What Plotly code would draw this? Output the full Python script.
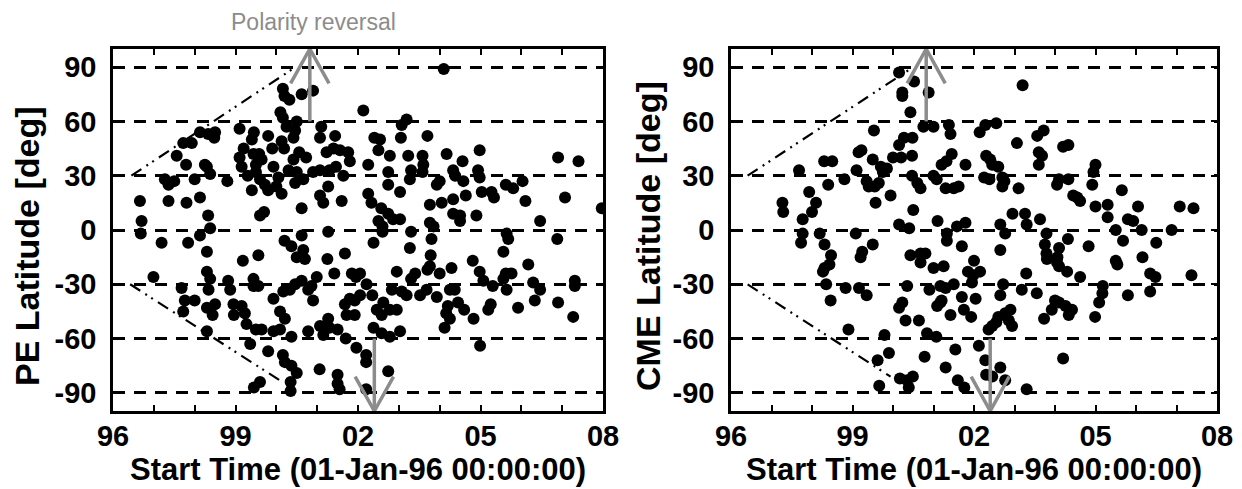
import plotly.graph_objects as go

# ---------------- data ----------------
x_tick_years = list(range(1996, 2009))
x_tick_labels = ["96", "", "", "99", "", "", "02", "", "", "05", "", "", "08"]
lat_ticks = [-90, -60, -30, 0, 30, 60, 90]
lat_tick_labels = ["-90", "-60", "-30", "0", "30", "60", "90"]

# Left panel: PE start times [year] and latitudes [deg]
pe_time = [
    2000.16, 2000.20, 2000.32, 2000.62, 2000.90, 2000.10, 2000.16, 2000.50, 2000.25, 2000.46,
    2000.42, 2000.13, 2000.19, 1999.10, 1999.45, 1999.40, 1999.80, 1998.13, 1998.33, 1998.50,
    1998.48, 1997.72, 1997.93, 1997.56, 1997.79, 1998.25, 1998.38, 1998.30, 1997.27, 1997.36,
    1997.50, 1998.00, 1998.80, 1996.66, 1996.70, 1997.36, 1997.80, 1998.13, 1998.33, 1999.10,
    1999.20, 1999.15, 1999.44, 1999.58, 1999.64, 1999.50, 1999.40, 1999.60, 1999.72, 1999.93,
    2000.00, 2000.13, 2000.62, 1999.60, 1999.70, 2000.42, 2000.56, 2000.73, 2000.50, 2000.66,
    2000.46, 2000.90, 2001.07, 2001.23, 2001.40, 2001.07, 2001.44, 2001.10, 2001.56, 2001.76,
    2001.80, 2001.30, 2001.46, 2001.64, 2001.27, 2001.07, 2001.15, 2001.60, 1999.30, 1999.50,
    1999.90, 2000.30, 2000.05, 1999.80,
    2004.10, 2002.13, 2003.19, 2003.07, 2002.40, 2002.54, 2002.50, 2002.78, 2003.05, 2003.23,
    2003.70, 2003.58, 2003.60, 2003.58, 2003.30, 2003.27, 2002.74, 2002.74, 2003.03, 2002.25,
    2002.25, 2002.33, 2002.57, 2002.74, 2002.50, 2002.60, 2002.86, 2003.03, 2003.76, 2004.05,
    2004.17, 2004.56, 2004.33, 2004.38, 2004.58, 2003.93, 2004.00, 2004.33, 2004.64, 2004.33,
    2004.50, 2004.50, 2004.90, 2004.98, 2004.94, 2004.98, 2005.03, 2005.27, 2005.33, 2005.62,
    2005.80, 2006.03, 2006.10, 2006.46, 2006.90, 2007.40, 2007.07, 2007.97, 2003.76, 2003.85,
    1996.68, 1997.19, 1997.84, 1998.13, 1998.38, 1998.30, 1999.18, 1999.56, 2000.20, 2000.37,
    2000.62, 2000.66, 2000.50, 2001.27, 2001.25, 2001.68, 2001.42, 1996.99, 1997.68, 1997.76,
    1998.00, 1997.72, 1998.30, 1998.38, 1998.34, 1998.30, 1998.50, 1998.44, 1998.30, 1998.82,
    1998.87, 1998.95, 1998.96, 1999.23, 1999.27, 1999.44, 1999.44, 1999.56, 1999.36, 1999.64,
    1999.80, 1999.93, 2000.09, 1999.93, 2000.09, 2000.21, 2000.17, 2000.33, 2000.46, 2000.62,
    2000.78, 2000.86, 2000.99, 2000.90, 2000.16, 2000.21, 2000.37, 2000.50, 2000.37, 2000.78,
    2001.07, 2001.15, 2001.27, 2001.30, 2001.50, 2001.70, 2001.96, 2001.06, 2001.50, 2001.55,
    2000.35, 2000.35, 1999.45, 1999.60, 2000.70, 1999.15, 1999.50, 2001.50,
    2002.60, 2002.38, 2003.30, 2003.27, 2003.80, 2003.78, 2003.76, 2003.70, 2003.40, 2003.30,
    2002.95, 2001.85, 2001.95, 2002.05, 2002.21, 2001.80, 2001.92, 2002.05, 2001.68, 2001.72,
    2001.92, 2002.38, 2002.58, 2002.78, 2003.03, 2002.46, 2002.62, 2002.78, 2002.95, 2002.58,
    2002.35, 2002.83, 2003.07, 2003.19, 2003.52, 2003.68, 2003.93, 2004.00, 2004.29, 2004.25,
    2004.37, 2004.45, 2004.20, 2004.16, 2004.12, 2004.25, 2004.60, 2004.81, 2004.98, 2005.07,
    2005.30, 2005.56, 2005.62, 2005.76, 2005.56, 2005.64, 2005.68, 2005.64, 2006.17, 2006.29,
    2006.46, 2006.33, 2005.92, 2005.19, 2005.25, 2004.83, 2004.99, 2006.88, 2006.90, 2007.31,
    2007.31, 2007.27, 2002.20, 2002.20, 2002.74, 2002.20,
]
pe_lat = [
    78, 74, 72, 75, 77, 65, 62, 60, 57, 55,
    51, 49, 45, 56, 54, 50, 52, 54, 53, 54,
    51, 48, 48, 41, 36, 36, 31, 35, 28, 25,
    27, 28, 27, 16, 5, 16, 15, 18, 8, 40,
    45, 35, 42, 42, 39, 32, 22, 28, 25, 35,
    24, 20, 12, 8, 10, 39, 43, 40, 32, 28,
    26, 32, 33, 43, 45, 51, 52, 57, 44, 43,
    38, 33, 35, 30, 24, 19, 15, 16, 30, 36,
    45, 33, 29, 22,
    89, 66, 61, 58, 51, 50, 44, 41, 51, 41,
    52, 41, 36, 32, 33, 28, 32, 25, 21, 36,
    20, 15, 12, 9, 5, 2, 6, 6, 14, 15,
    42, 38, 33, 30, 27, 25, 27, 17, 19, 9,
    8, 5, 8, 44, 33, 29, 21, 21, 18, 25,
    23, 27, 16, 5, 40, 38, 18, 12, 4, 2,
    -2, -7, -7, -3, 1, -12, -17, -14, -6, -9,
    -3, -11, -15, -1, -16, -13, -24, -26, -32, -39,
    -39, -45, -23, -27, -33, -43, -41, -47, -56, -28,
    -33, -41, -47, -46, -52, -27, -31, -31, -63, -55,
    -67, -56, -55, -38, -45, -49, -34, -33, -30, -28,
    -33, -31, -26, -39, -69, -73, -75, -79, -59, -56,
    -53, -58, -49, -54, -55, -60, -65, -77, -80, -88,
    -84, -89, -87, -84, -16, -42, -55, -85,
    -1, -7, -1, -10, -5, -14, -20, -22, -24, -27,
    -23, -24, -26, -24, -30, -38, -39, -36, -41, -47,
    -47, -54, -57, -59, -56, -44, -40, -44, -44, -47,
    -36, -33, -34, -36, -36, -33, -37, -24, -21, -33,
    -33, -40, -42, -46, -54, -49, -44, -17, -23, -28,
    -31, -27, -24, -24, -12, -2, -5, -33, -19, -29,
    -33, -39, -43, -44, -41, -49, -64, -5, -40, -28,
    -31, -48, -69, -73, -78, -88,
]

# Right panel: CME start times [year] and latitudes [deg]
cme_time = [
    2000.15, 2000.52, 2000.23, 2000.23, 2000.88, 2000.43, 2000.75, 2001.00, 1999.53, 2000.15,
    2000.27, 2000.48, 2000.00, 2000.20, 2000.47, 1999.15, 1999.22, 1999.10, 1999.50, 1999.70,
    1999.75, 1999.85, 1999.35, 1999.40, 1999.55, 1999.65, 1999.57, 1999.94, 2000.47, 2000.60,
    2000.68, 2000.50, 2000.15, 2000.40, 2001.10, 2001.00, 2001.08, 2001.20, 2001.32, 2001.45,
    2001.42, 2001.38, 2001.30, 2001.50, 1997.68, 1998.30, 1998.50, 1998.40, 1998.80, 1997.27,
    1997.29, 1997.93, 1998.10, 1998.00, 1997.77, 2001.62,
    2003.20, 2002.14, 2002.28, 2002.55, 2003.06, 2003.56, 2003.72, 2003.60, 2003.68, 2003.60,
    2004.20, 2004.33, 2001.79, 2002.30, 2002.40, 2002.45, 2002.60, 2002.70, 2002.75, 2002.70,
    2002.25, 2002.38, 2003.10, 2004.10, 2004.05, 2004.33, 2005.00, 2004.95, 2004.92, 2004.45,
    2004.55, 2004.62, 2005.00, 2005.30, 2005.30, 2005.65, 2005.80, 2005.93, 2006.05, 2007.08,
    2007.42, 2002.95, 2003.26, 2003.63,
    1997.77, 1997.73, 1998.19, 1998.31, 1998.47, 1998.43, 1998.31, 1998.27, 1998.35, 1998.46,
    1998.83, 1999.16, 1999.35, 1999.08, 1999.20, 1999.24, 1999.50, 1998.90, 2000.43, 2000.68,
    2000.80, 2000.68, 2001.00, 2001.25, 2000.35, 2000.90, 2001.17, 2000.15, 2000.23, 2000.31,
    2000.64, 2001.17, 2001.09, 2001.42, 2000.84, 2001.07, 1999.79, 1999.90, 1999.62, 1999.66,
    2000.17, 2000.35, 2000.49, 2000.39, 2000.78, 2001.30, 2001.33, 2001.33,
    2001.70, 2001.58, 2001.79, 2002.65, 2002.77, 2003.30, 2003.79, 2004.32, 2005.50, 2006.14,
    2006.88, 2002.65, 2003.75, 2003.79, 2004.10, 2004.06, 2004.83, 2003.80, 2004.05, 2004.10,
    2004.30, 2002.00, 2001.85, 2001.98, 2002.15, 2001.95, 2003.29, 2004.62, 2005.50, 2005.54,
    2005.68, 2006.16, 2006.50, 2006.35, 2006.48, 2007.37, 2005.18, 2005.17, 2005.09, 2005.80,
    2006.35, 2004.99, 2004.00, 2004.10, 2004.26, 2004.42, 2004.34, 2003.92, 2003.73, 2003.55,
    2003.18, 2002.72, 2002.65, 2001.30, 2001.50, 2001.20, 2001.70, 2002.04, 2001.75, 2001.93,
    2002.45, 2002.60, 2002.77, 2002.90, 2002.86, 2002.94, 2002.36, 2002.55, 2001.54, 2002.12,
    2002.28, 2002.65, 2002.30, 2002.45, 2001.60, 2001.76, 2002.77, 2003.30, 2004.20,
]
cme_lat = [
    87, 82, 76, 74, 76, 65, 57, 57, 55, 47,
    51, 51, 40, 40, 41, 43, 44, 33, 39, 35,
    32, 34, 27, 24, 24, 26, 15, 19, 30, 26,
    23, 11, 3, 1, 5, 30, 28, 36, 38, 42,
    53, 58, 23, 23, 33, 38, 38, 25, 28, 15,
    10, 21, 15, 10, 6, 24,
    80, 54, 58, 59, 48, 52, 55, 43, 41, 36,
    46, 47, 36, 41, 39, 36, 35, 29, 27, 24,
    29, 28, 23, 28, 25, 28, 36, 32, 25, 19,
    18, 16, 13, 14, 7, 22, 6, 5, 13, 13,
    12, 9, 9, 6,
    -2, -7, -2, -8, -14, -19, -21, -23, -30, -39,
    -32, -32, -36, -2, -15, -12, -8, -55, -14, -13,
    -13, -18, -21, -20, -31, -33, -31, -43, -40, -50,
    -50, -40, -42, -47, -57, -59, -58, -68, -72, -86,
    -82, -83, -81, -87, -70, -76, -2, -6,
    -9, 2, 4, 3, -2, 3, -2, -5, 0, 0,
    0, -11, -8, -13, -10, -15, -9, -16, -18, -20,
    -23, -17, -23, -25, -23, -29, -24, -26, -17, -19,
    -6, -15, -7, -24, -26, -25, -31, -35, -40, -36,
    -34, -48, -39, -40, -42, -44, -47, -44, -49, -35,
    -33, -30, -36, -32, -30, -39, -37, -38, -44, -48,
    -53, -48, -46, -44, -50, -53, -55, -51, -66, -64,
    -72, -76, -80, -81, -83, -87, -83, -88, -71,
]

# Polarity-reversal times (north, south) and arrow extents [deg]
reversal_north = 2000.82
reversal_south = 2002.40
arrow_from, arrow_to, arrow_head_lat = 60, 100, 81
arrow_head_halfwidth = 0.47

# Dash-dot "envelope" guide lines: (start time, start lat, end time, end lat)
pe_envelope_n = [1996.45, 30, 2000.40, 89]
pe_envelope_s = [1996.42, -30, 2000.15, -84]
cme_envelope_n = [1996.41, 30, 2000.43, 89]
cme_envelope_s = [1996.41, -30, 1999.94, -81]

# ---------------- figure ----------------
FONT = "Liberation Sans, Arial, sans-serif"
GRAY = "#8c8c8c"
W, H = 1242, 489
ML, MR, MT, MB = 113, 25, 49, 78
plot_w = W - ML - MR
plot_h = H - MT - MB
dom_left = [0, 490 / plot_w]
dom_right = [618 / plot_w, 1.0]

fig = go.Figure()


def add_panel(times, lats, env_n, env_s, xa, ya):
    xref = "x" if xa == "" else "x" + xa
    yref = "y" if ya == "" else "y" + ya
    for env in (env_n, env_s):
        fig.add_trace(go.Scatter(
            x=[env[0], env[2]], y=[env[1], env[3]], mode="lines",
            line=dict(color="black", width=2.2, dash="12px,6px,2px,5px,2px,6px"),
            xaxis=xref, yaxis=yref, showlegend=False, hoverinfo="skip"))
    fig.add_trace(go.Scatter(
        x=times, y=lats, mode="markers",
        marker=dict(color="black", size=12, line=dict(width=0)),
        xaxis=xref, yaxis=yref, showlegend=False))
    for t, sgn in ((reversal_north, 1), (reversal_south, -1)):
        fig.add_trace(go.Scatter(
            x=[t, t, None, t - arrow_head_halfwidth, t, t + arrow_head_halfwidth],
            y=[sgn * arrow_from, sgn * arrow_to, None,
               sgn * arrow_head_lat, sgn * arrow_to, sgn * arrow_head_lat],
            mode="lines", line=dict(color=GRAY, width=3.5),
            xaxis=xref, yaxis=yref, showlegend=False, hoverinfo="skip"))


add_panel(pe_time, pe_lat, pe_envelope_n, pe_envelope_s, "", "")
add_panel(cme_time, cme_lat, cme_envelope_n, cme_envelope_s, "2", "2")

tick_font = dict(family=FONT, size=29, color="black", weight="bold")
xtitle_font = dict(family=FONT, size=31, color="black", weight="bold")
ytitle_font = dict(family=FONT, size=34, color="black", weight="bold")

xcommon = dict(
    range=[1996, 2008], tickmode="array", tickvals=x_tick_years, ticktext=x_tick_labels,
    ticks="inside", ticklen=6, tickwidth=2, tickcolor="black",
    showline=True, linecolor="black", linewidth=2.5, mirror="ticks",
    showgrid=False, zeroline=False, tickfont=tick_font, automargin=False,
    ticklabelstandoff=-3,
)
ycommon = dict(
    range=[-100, 100], tickmode="array", tickvals=lat_ticks, ticktext=lat_tick_labels,
    ticks="inside", ticklen=6, tickwidth=2, tickcolor="black",
    showline=True, linecolor="black", linewidth=2.5, mirror="ticks",
    showgrid=True, gridcolor="black", gridwidth=3, griddash="12px,9px",
    zeroline=False, tickfont=tick_font, automargin=False, ticklabelstandoff=8,
)


def px_x(px):
    return (px - ML) / plot_w


def px_y(py):
    return (H - MB - py) / plot_h


xtitle = "Start Time (01-Jan-96 00:00:00)"
annotations = [
    dict(text="Polarity reversal", x=reversal_north + 0.1, xref="x", y=px_y(22), yref="paper",
         xanchor="center", yanchor="middle", showarrow=False,
         font=dict(family=FONT, size=23, color=GRAY)),
    dict(text=xtitle, x=sum(dom_left) / 2, y=px_y(469), xref="paper", yref="paper",
         xanchor="center", yanchor="middle", showarrow=False, font=xtitle_font),
    dict(text=xtitle, x=sum(dom_right) / 2, y=px_y(469), xref="paper", yref="paper",
         xanchor="center", yanchor="middle", showarrow=False, font=xtitle_font),
    dict(text="PE Latitude [deg]", x=px_x(27), y=px_y(246), xref="paper", yref="paper",
         xanchor="center", yanchor="middle", textangle=-90, showarrow=False, font=ytitle_font),
    dict(text="CME Latitude [deg]", x=px_x(648), y=px_y(236), xref="paper", yref="paper",
         xanchor="center", yanchor="middle", textangle=-90, showarrow=False, font=ytitle_font),
]

fig.update_layout(
    width=W, height=H, template="none",
    paper_bgcolor="white", plot_bgcolor="white",
    margin=dict(l=ML, r=MR, t=MT, b=MB),
    xaxis=dict(domain=dom_left, anchor="y", **xcommon),
    yaxis=dict(domain=[0, 1], anchor="x", **ycommon),
    xaxis2=dict(domain=dom_right, anchor="y2", **xcommon),
    yaxis2=dict(domain=[0, 1], anchor="x2", **ycommon),
    annotations=annotations,
)

fig.write_html("out.html", config={"displayModeBar": False},
               post_script="document.body.style.margin='0px';")
